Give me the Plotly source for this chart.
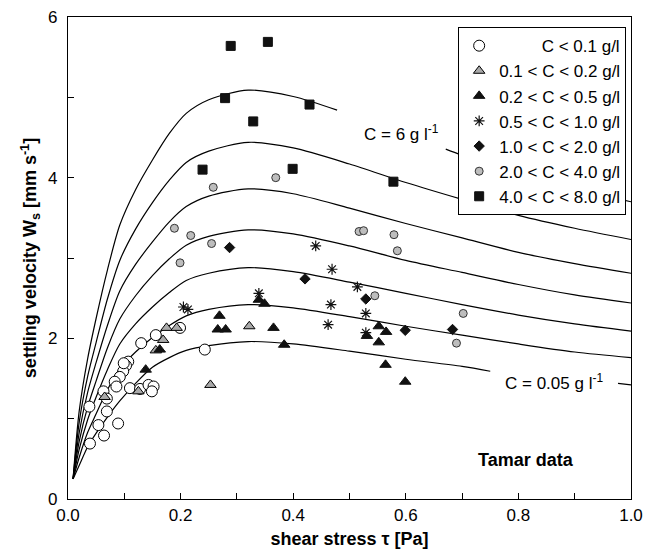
import plotly.graph_objects as go

# ---------------- data ----------------
tau_grid = [0.009, 0.02, 0.035, 0.05, 0.07, 0.092, 0.12, 0.15, 0.18, 0.21, 0.25,
            0.32, 0.40, 0.50, 0.60, 0.70, 0.80, 0.90, 1.00]

# C = 6 g/l curve (interrupted by its label)
tau_c6 = [0.009, 0.02, 0.035, 0.05, 0.07, 0.092, 0.12, 0.15, 0.18, 0.21, 0.25,
          0.32, 0.40, 0.478, None, 0.671, 0.70, 0.80, 0.90, 1.00]
w_c6 = [0.25, 1.10, 1.75, 2.25, 2.85, 3.41, 3.85, 4.22, 4.55, 4.80, 4.97,
        5.09, 5.01, 4.84, None, 4.355, 4.28, 4.05, 3.86, 3.70]

w_c2 = [0.25, 0.96, 1.53, 1.95, 2.49, 2.97, 3.36, 3.69, 3.97, 4.19, 4.33, 4.44, 4.37, 4.17, 3.94, 3.73, 3.53, 3.37, 3.23]
w_c3 = [0.25, 0.83, 1.33, 1.70, 2.16, 2.59, 2.92, 3.20, 3.45, 3.64, 3.77, 3.86, 3.80, 3.62, 3.43, 3.25, 3.07, 2.93, 2.81]
w_c4 = [0.25, 0.72, 1.15, 1.47, 1.88, 2.24, 2.53, 2.78, 2.99, 3.16, 3.27, 3.35, 3.30, 3.15, 2.97, 2.82, 2.67, 2.54, 2.44]
w_c5 = [0.25, 0.62, 0.99, 1.27, 1.61, 1.93, 2.18, 2.39, 2.57, 2.72, 2.81, 2.88, 2.83, 2.70, 2.56, 2.42, 2.29, 2.18, 2.09]
w_c6b = [0.25, 0.52, 0.83, 1.06, 1.36, 1.62, 1.83, 2.01, 2.16, 2.28, 2.36, 2.42, 2.38, 2.27, 2.15, 2.04, 1.93, 1.83, 1.76]

# C = 0.05 g/l curve (interrupted by its label)
tau_c005 = [0.009, 0.02, 0.035, 0.05, 0.07, 0.092, 0.12, 0.15, 0.18, 0.21, 0.25,
            0.32, 0.40, 0.50, 0.60, 0.70, 0.75, None, 0.977, 1.00]
w_c005 = [0.25, 0.42, 0.65, 0.82, 1.02, 1.22, 1.44, 1.64, 1.76, 1.85, 1.91,
          1.96, 1.93, 1.84, 1.74, 1.65, 1.59, None, 1.44, 1.42]

# observations
tau_lt01 = [0.199, 0.156, 0.130, 0.243, 0.107, 0.103, 0.098, 0.092, 0.083, 0.086, 0.063,
            0.110, 0.128, 0.143, 0.152, 0.149, 0.069, 0.038, 0.069, 0.054, 0.089, 0.064,
            0.039, 0.099]
w_lt01 = [2.13, 2.04, 1.94, 1.86, 1.71, 1.66, 1.59, 1.52, 1.46, 1.40, 1.34,
          1.38, 1.37, 1.42, 1.40, 1.34, 1.25, 1.15, 1.09, 0.92, 0.94, 0.79,
          0.69, 1.69]

tau_01_02 = [0.253, 0.322, 0.175, 0.193, 0.169, 0.156, 0.125, 0.065]
w_01_02 = [1.42, 2.15, 2.13, 2.13, 1.98, 1.85, 1.34, 1.27]

tau_02_05 = [0.269, 0.266, 0.280, 0.365, 0.339, 0.349, 0.384, 0.552, 0.565, 0.552,
             0.564, 0.599, 0.138, 0.163, 0.531]
w_02_05 = [2.28, 2.11, 2.11, 2.13, 2.48, 2.43, 1.92, 2.15, 2.08, 1.95,
           1.67, 1.46, 1.61, 1.86, 2.03]

tau_05_10 = [0.440, 0.469, 0.514, 0.467, 0.462, 0.529, 0.529, 0.339, 0.205, 0.213]
w_05_10 = [3.15, 2.86, 2.64, 2.42, 2.17, 2.31, 2.07, 2.56, 2.39, 2.36]

tau_10_20 = [0.287, 0.421, 0.529, 0.599, 0.683]
w_10_20 = [3.13, 2.74, 2.49, 2.10, 2.11]

tau_20_40 = [0.258, 0.369, 0.189, 0.218, 0.255, 0.199, 0.517, 0.525, 0.545, 0.579,
             0.585, 0.702, 0.690]
w_20_40 = [3.88, 4.00, 3.37, 3.28, 3.18, 2.94, 3.33, 3.34, 2.53, 3.29,
           3.09, 2.31, 1.94]

tau_40_80 = [0.289, 0.355, 0.279, 0.429, 0.329, 0.239, 0.399, 0.578]
w_40_80 = [5.64, 5.69, 4.99, 4.91, 4.70, 4.10, 4.11, 3.95]

legend_names = ["\u00a0" * 9 + "C < 0.1 g/l", "0.1 < C < 0.2 g/l", "0.2 < C < 0.5 g/l",
                "0.5 < C < 1.0 g/l", "1.0 < C < 2.0 g/l", "2.0 < C < 4.0 g/l",
                "4.0 < C < 8.0 g/l"]

# ---------------- figure ----------------
FONT = "Liberation Sans, Arial, Helvetica, sans-serif"
fig = go.Figure()

line = dict(color="black", width=1.2, shape="spline", smoothing=0.8)
fig.add_trace(go.Scatter(x=tau_c6, y=w_c6, mode="lines", line=line,
                         showlegend=False, hoverinfo="skip", connectgaps=False))
for wc in [w_c2, w_c3, w_c4, w_c5, w_c6b]:
    fig.add_trace(go.Scatter(x=tau_grid, y=wc, mode="lines", line=line,
                             showlegend=False, hoverinfo="skip"))
fig.add_trace(go.Scatter(x=tau_c005, y=w_c005, mode="lines", line=line,
                         showlegend=False, hoverinfo="skip", connectgaps=False))

series = [
    (tau_lt01, w_lt01, dict(symbol="circle", size=11, color="white",
                            line=dict(color="black", width=1))),
    (tau_01_02, w_01_02, dict(symbol="triangle-up", size=10, color="#a9a9a9",
                              line=dict(color="black", width=1))),
    (tau_02_05, w_02_05, dict(symbol="triangle-up", size=10, color="#111111",
                              line=dict(color="#111111", width=1))),
    (tau_05_10, w_05_10, dict(symbol="asterisk-open", size=9, color="#111111",
                              line=dict(color="#111111", width=1.2))),
    (tau_10_20, w_10_20, dict(symbol="diamond", size=8, color="#111111",
                              line=dict(color="#111111", width=1))),
    (tau_20_40, w_20_40, dict(symbol="circle", size=8, color="#bdbdbd",
                              line=dict(color="#333333", width=1))),
    (tau_40_80, w_40_80, dict(symbol="square", size=9, color="#111111",
                              line=dict(color="#111111", width=1))),
]
for (xs, ys, mk), name in zip(series, legend_names):
    fig.add_trace(go.Scatter(x=xs, y=ys, mode="markers", marker=mk, name=name))

axis_common = dict(showline=True, linecolor="black", linewidth=1.2, mirror=True,
                   ticks="inside", ticklen=6, tickwidth=1, tickcolor="black",
                   showgrid=False, zeroline=False, automargin=False,
                   ticklabeloverflow="allow",
                   tickfont=dict(family=FONT, size=17, color="black"))

fig.update_xaxes(range=[0, 1], dtick=0.2, tickformat=".1f",
                 minor=dict(dtick=0.1, ticks="inside", ticklen=6, tickcolor="black"),
                 title=dict(text="<b>shear stress \u03c4 [Pa]</b>",
                            font=dict(family=FONT, size=18, color="black"), standoff=8),
                 **axis_common)
fig.update_yaxes(range=[0, 6], dtick=2,
                 minor=dict(dtick=1, ticks="inside", ticklen=6, tickcolor="black"),
                 ticklabelstandoff=6,
                 title=dict(text="<b>settling velocity W<sub>s</sub> [mm s<sup>-1</sup>]</b>",
                            font=dict(family=FONT, size=18, color="black"), standoff=6),
                 **axis_common)

fig.add_annotation(x=0.593, y=4.56, text="C = 6 g l<sup>-1</sup>", showarrow=False,
                   font=dict(family=FONT, size=17, color="black"))
fig.add_annotation(x=0.863, y=1.46, text="C = 0.05 g l<sup>-1</sup>", showarrow=False,
                   font=dict(family=FONT, size=17, color="black"))
fig.add_annotation(x=0.813, y=0.49, text="<b>Tamar data</b>", showarrow=False,
                   font=dict(family=FONT, size=18, color="black"))

# page body has an 8px default margin; figure is sized so the plot area
# lands at x 68-631, y 17-499 of the 658x557 window
fig.update_layout(
    width=650, height=549,
    margin=dict(l=60, r=27, t=9, b=58, autoexpand=False),
    plot_bgcolor="white", paper_bgcolor="white",
    font=dict(family=FONT, size=17, color="black"),
    legend=dict(x=0.693, y=0.979, xanchor="left", yanchor="top",
                bgcolor="white", bordercolor="black", borderwidth=1,
                font=dict(family=FONT, size=17, color="black"),
                itemsizing="trace"),
)

fig.write_html("out.html")
